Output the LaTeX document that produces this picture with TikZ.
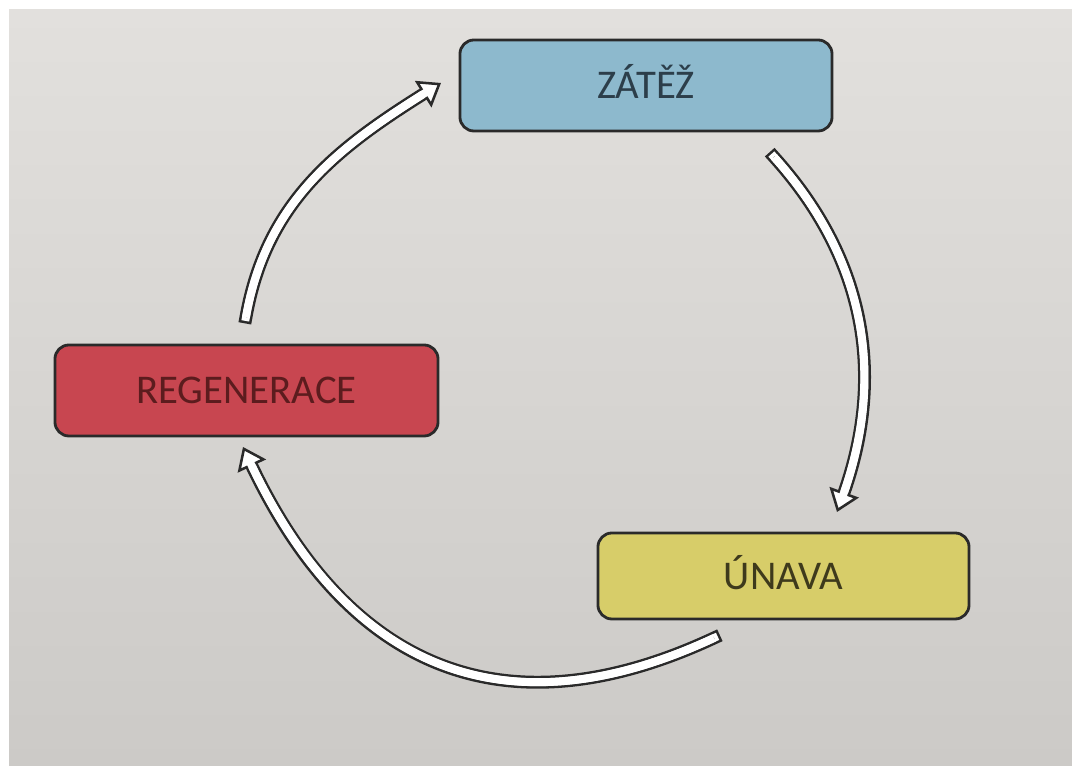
\documentclass[tikz,border=0pt]{standalone}
\usepackage{fontspec}
\setmainfont{Carlito}
\usetikzlibrary{arrows.meta}
\definecolor{bgtop}{HTML}{E2E0DD}
\definecolor{bgbot}{HTML}{CCCAC7}
\definecolor{boxline}{HTML}{2A2A2A}
\definecolor{arrowline}{HTML}{2A2A2A}
\definecolor{zatfill}{HTML}{8DB9CD}
\definecolor{zattext}{HTML}{2C3E4A}
\definecolor{regfill}{HTML}{C84650}
\definecolor{regtext}{HTML}{5C1C1E}
\definecolor{unafill}{HTML}{D7CD69}
\definecolor{unatext}{HTML}{3E3A1C}

\begin{document}
\begin{tikzpicture}[x=0.025cm, y=0.025cm,
    phase/.style={draw=boxline, line width=2pt, rounded corners=0.35cm,
      minimum width=9.3cm, minimum height=2.275cm, inner sep=0pt,
      text height=19pt, text depth=0pt, font=\fontsize{29}{34}\selectfont},
    cyclearrow/.style={draw=arrowline, line width=1.8pt,
      -{Triangle[length=15pt, width=22pt, fill=white]},
      preaction={draw=arrowline, -, line width=1.8pt, double=white,
        double distance=5.6pt, line cap=rect, shorten >=11pt},
      postaction={draw=white, -, line width=5.6pt, shorten >=9pt}}]
  \useasboundingbox (0,0) rectangle (1072,766);
  \fill[white] (0,0) rectangle (1072,766);
  \shade[top color=bgtop, bottom color=bgbot] (9,0) rectangle (1072,756);

  \node[phase, fill=zatfill, text=zattext] (zat) at (646,680.5) {ZÁTĚŽ};
  \node[phase, fill=unafill, text=unatext, minimum width=9.275cm,
    minimum height=2.15cm] (una) at (783.5,190) {ÚNAVA};
  \node[phase, fill=regfill, text=regtext, minimum width=9.575cm] (reg) at (246.5,375.5) {REGENERACE};

  \coordinate (regout) at (246,449);
  \coordinate (zatin)  at (441,683);
  \coordinate (zatout) at (774,609);
  \coordinate (unain)  at (837,254);
  \coordinate (unaout) at (714,128);
  \coordinate (regin)  at (243,319);

  \draw[cyclearrow] (regout) to[out=80, in=212] (zatin);
  \draw[cyclearrow] (zatout) to[out=-48, in=70] (unain);
  \draw[cyclearrow] (unaout) to[out=205, in=-65, looseness=1.2] (regin);
\end{tikzpicture}
\end{document}
